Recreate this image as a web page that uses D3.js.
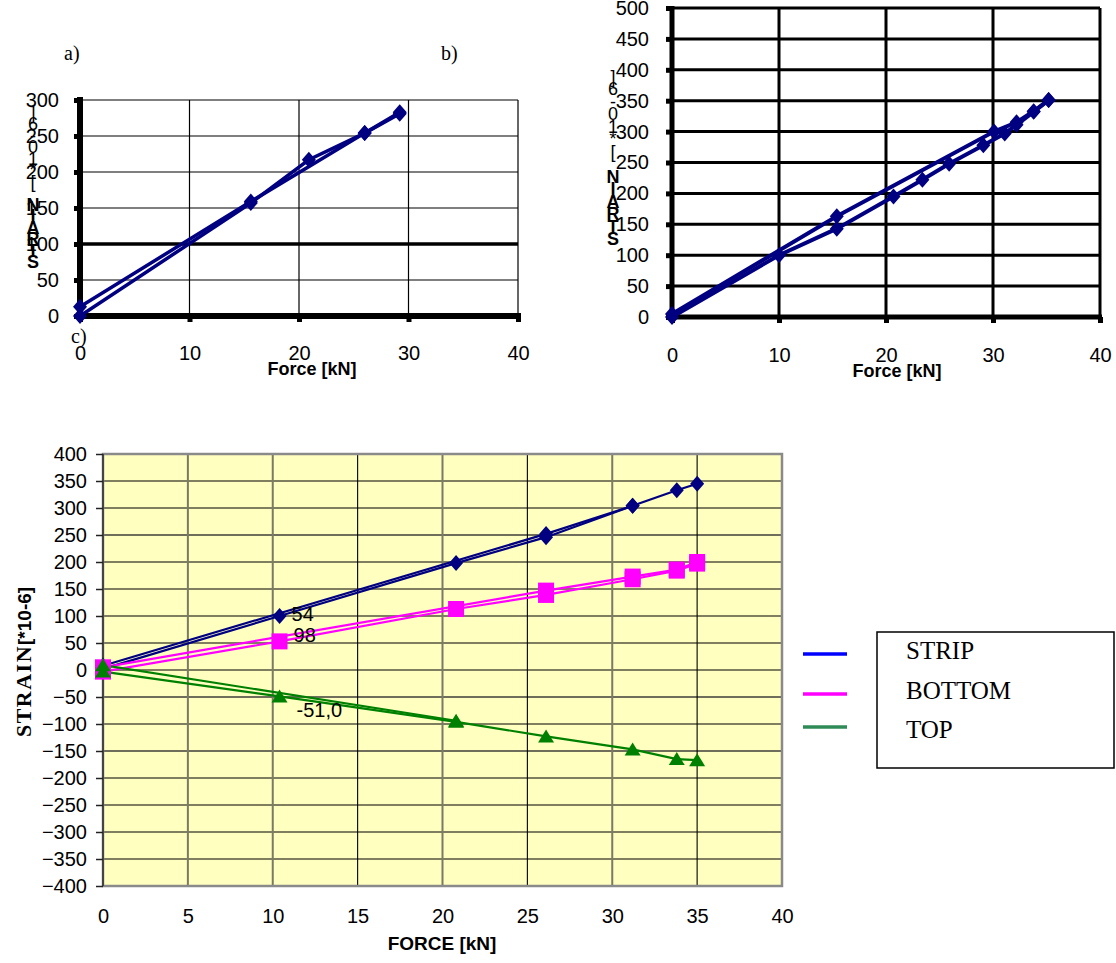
<!DOCTYPE html>
<html><head><meta charset="utf-8">
<script src="https://cdn.jsdelivr.net/npm/d3@7"></script>
<style>body{margin:0;background:#fff}</style>
</head><body>
<svg id="chart" width="1116" height="963"></svg>
<script>
// ---------- data ----------
// panel a
const aForceUp = [0, 15.6, 26.0, 29.2];
const aStrainUp = [13, 159, 254, 281];
const aForceDown = [0, 15.6, 20.9, 26.0, 29.2];
const aStrainDown = [0, 157, 217, 254, 283];
const aXTicks = [0, 10, 20, 30, 40];
const aYTicks = [0, 50, 100, 150, 200, 250, 300];
// panel b
const bForceUp = [0, 15.4, 30.1, 32.2, 33.8, 35.2];
const bStrainUp = [5, 163, 300, 315, 333, 351];
const bForceDown = [0, 10.0, 15.4, 20.7, 23.4, 25.9, 29.1, 31.1, 32.2, 33.8, 35.2];
const bStrainDown = [0, 100, 143, 195, 222, 248, 278, 297, 311, 332, 351];
const bXTicks = [0, 10, 20, 30, 40];
const bYTicks = [0, 50, 100, 150, 200, 250, 300, 350, 400, 450, 500];
// panel c
const cForceLoad = [0, 10.4, 20.8, 26.1, 31.2, 33.8, 35.0];
const cStripLoad = [2, 100, 198, 246, 304, 333, 345];
const cBottomLoad = [-3, 53, 113, 139, 168, 184, 197];
const cTopLoad = [-3, -49, -96, -123, -147, -165, -167];
const cForceStripUnload = [0, 26.1, 31.2];
const cStripUnload = [8, 252, 304];
const cForceBottomUnload = [0, 26.1, 31.2, 33.8, 35.0];
const cBottomUnload = [5, 147, 173, 186, 200];
const cForceTopUnload = [0, 20.8];
const cTopUnload = [9, -94];
const cXTicks = [0, 5, 10, 15, 20, 25, 30, 35, 40];
const cYTicks = [-400, -350, -300, -250, -200, -150, -100, -50, 0, 50, 100, 150, 200, 250, 300, 350, 400];
const cLabelText = ["54", "98", "-51,0"];
const cLabelForce = [10.4, 10.4, 10.4];
const cLabelStrain = [100, 53, -49];
const legendNames = ["STRIP", "BOTTOM", "TOP"];
const legendColors = ["#0000FF", "#FF00FF", "#2E8B57"];
const yLabelText = "STRAIN [*10-6]";

// ---------- drawing ----------
const svg = d3.select("#chart");
const zip = (xs, ys) => xs.map((x, i) => [x, ys[i]]);
const diamond = "M0,-8L7,0L0,8L-7,0Z";
const NAVY = "#000080";
const SANS = "Liberation Sans, Arial, sans-serif";
const SERIF = "Liberation Serif, Times New Roman, serif";

function stackedLabel(g, x, yBottom, step) {
  const chars = yLabelText.split("");
  g.selectAll(null).data(chars).join("text")
    .attr("x", x).attr("y", (d, i) => yBottom - i * step)
    .attr("text-anchor", "middle")
    .attr("font-family", SANS)
    .attr("font-weight", (d, i) => i < 6 ? "bold" : "normal").attr("font-size", 18)
    .text(d => d);
}

// ===== panel a =====
{
  const x = d3.scaleLinear([0, 40], [80, 518]);
  const y = d3.scaleLinear([0, 300], [316, 100]);
  const g = svg.append("g");
  g.selectAll(null).data(aYTicks.filter(v => v > 0)).join("line")
    .attr("x1", x(0)).attr("x2", x(40)).attr("y1", d => y(d)).attr("y2", d => y(d))
    .attr("stroke", "#000").attr("stroke-width", d => d === 100 ? 3.5 : 1.2);
  g.selectAll(null).data(aXTicks.filter(v => v > 0)).join("line")
    .attr("y1", y(0)).attr("y2", y(300)).attr("x1", d => x(d)).attr("x2", d => x(d))
    .attr("stroke", "#000").attr("stroke-width", 1.2);
  const ya = g.append("g").attr("transform", `translate(${x(0)},0)`)
    .call(d3.axisLeft(y).tickValues(aYTicks).tickSize(6).tickPadding(15));
  const xa = g.append("g").attr("transform", `translate(0,${y(0)})`)
    .call(d3.axisBottom(x).tickValues(aXTicks).tickSize(6).tickPadding(24));
  [ya, xa].forEach(a => {
    a.select(".domain").remove();
    a.selectAll(".tick line").attr("stroke", "#000").attr("stroke-width", 5);
    a.selectAll("text").attr("font-family", SANS).attr("font-size", 20).attr("fill", "#000");
  });
  g.append("line").attr("x1", x(0)).attr("x2", x(0)).attr("y1", y(300) - 3).attr("y2", y(0) + 3).attr("stroke", "#000").attr("stroke-width", 6);
  g.append("line").attr("x1", x(0) - 3).attr("x2", x(40) + 3).attr("y1", y(0)).attr("y2", y(0)).attr("stroke", "#000").attr("stroke-width", 6);
  const line = d3.line().x(d => x(d[0])).y(d => y(d[1]));
  [zip(aForceUp, aStrainUp), zip(aForceDown, aStrainDown)].forEach(s => {
    g.append("path").attr("d", line(s)).attr("fill", "none").attr("stroke", NAVY).attr("stroke-width", 3.5);
    g.selectAll(null).data(s).join("path").attr("d", diamond)
      .attr("transform", d => `translate(${x(d[0])},${y(d[1])})`).attr("fill", NAVY);
  });
  stackedLabel(g, 33, 268, 11.5);
  g.append("text").attr("x", 312).attr("y", 375).attr("text-anchor", "middle")
    .attr("font-family", SANS).attr("font-weight", "bold").attr("font-size", 18).text("Force [kN]");
  g.append("text").attr("x", 64).attr("y", 60).attr("font-family", SERIF).attr("font-size", 20).text("a)");
  g.append("text").attr("x", 441).attr("y", 60).attr("font-family", SERIF).attr("font-size", 20).text("b)");
  g.append("text").attr("x", 71).attr("y", 343).attr("font-family", SERIF).attr("font-size", 20).text("c)");
}

// ===== panel b =====
{
  const x = d3.scaleLinear([0, 40], [672, 1100]);
  const y = d3.scaleLinear([0, 500], [317, 8]);
  const g = svg.append("g");
  g.selectAll(null).data(bYTicks.filter(v => v > 0)).join("line")
    .attr("x1", x(0)).attr("x2", x(40)).attr("y1", d => y(d)).attr("y2", d => y(d))
    .attr("stroke", "#000").attr("stroke-width", 3);
  g.selectAll(null).data(bXTicks.filter(v => v > 0)).join("line")
    .attr("y1", y(0)).attr("y2", y(500)).attr("x1", d => x(d)).attr("x2", d => x(d))
    .attr("stroke", "#000").attr("stroke-width", 3);
  const ya = g.append("g").attr("transform", `translate(${x(0)},0)`)
    .call(d3.axisLeft(y).tickValues(bYTicks).tickSize(6).tickPadding(17));
  const xa = g.append("g").attr("transform", `translate(0,${y(0)})`)
    .call(d3.axisBottom(x).tickValues(bXTicks).tickSize(6).tickPadding(25));
  [ya, xa].forEach(a => {
    a.select(".domain").remove();
    a.selectAll(".tick line").attr("stroke", "#000").attr("stroke-width", 5);
    a.selectAll("text").attr("font-family", SANS).attr("font-size", 20).attr("fill", "#000");
  });
  g.append("line").attr("x1", x(0)).attr("x2", x(0)).attr("y1", y(500) - 2).attr("y2", y(0) + 3).attr("stroke", "#000").attr("stroke-width", 5);
  g.append("line").attr("x1", x(0) - 2).attr("x2", x(40) + 2).attr("y1", y(0)).attr("y2", y(0)).attr("stroke", "#000").attr("stroke-width", 5);
  const line = d3.line().x(d => x(d[0])).y(d => y(d[1]));
  [zip(bForceUp, bStrainUp), zip(bForceDown, bStrainDown)].forEach(s => {
    g.append("path").attr("d", line(s)).attr("fill", "none").attr("stroke", NAVY).attr("stroke-width", 4);
    g.selectAll(null).data(s).join("path").attr("d", diamond)
      .attr("transform", d => `translate(${x(d[0])},${y(d[1])})`).attr("fill", NAVY);
  });
  stackedLabel(g, 613, 245, 12.5);
  g.append("text").attr("x", 897).attr("y", 377).attr("text-anchor", "middle")
    .attr("font-family", SANS).attr("font-weight", "bold").attr("font-size", 18).text("Force [kN]");
}

// ===== panel c =====
{
  const x = d3.scaleLinear([0, 40], [103, 782]);
  const y = d3.scaleLinear([-400, 400], [886, 454]);
  const g = svg.append("g");
  g.append("rect").attr("x", x(0)).attr("y", y(400)).attr("width", x(40) - x(0)).attr("height", y(-400) - y(400)).attr("fill", "#FFFFC0");
  const grayH = [-150, -50, 250];
  g.selectAll(null).data(cYTicks.filter(v => v > -400 && v < 400)).join("line")
    .attr("x1", x(0)).attr("x2", x(40)).attr("y1", d => y(d)).attr("y2", d => y(d))
    .attr("stroke", d => grayH.includes(d) ? "#6e6e5a" : "#000")
    .attr("stroke-width", d => grayH.includes(d) ? 1.8 : 1.1);
  const grayV = [5, 10, 20, 30];
  g.selectAll(null).data(cXTicks.filter(v => v > 0 && v < 40)).join("line")
    .attr("y1", y(-400)).attr("y2", y(400)).attr("x1", d => x(d)).attr("x2", d => x(d))
    .attr("stroke", d => grayV.includes(d) ? "#7a7a66" : "#000")
    .attr("stroke-width", d => grayV.includes(d) ? 2 : 1.1);
  g.append("rect").attr("x", x(0)).attr("y", y(400)).attr("width", x(40) - x(0)).attr("height", y(-400) - y(400))
    .attr("fill", "none").attr("stroke", "#8a8a8a").attr("stroke-width", 2.5);
  g.append("line").attr("x1", x(0)).attr("x2", x(0)).attr("y1", y(400)).attr("y2", y(-400)).attr("stroke", "#444").attr("stroke-width", 2);
  const ya = g.append("g").attr("transform", `translate(${x(0)},0)`)
    .call(d3.axisLeft(y).tickValues(cYTicks).tickSize(7).tickPadding(9));
  const xa = g.append("g").attr("transform", `translate(0,${y(-400)})`)
    .call(d3.axisBottom(x).tickValues(cXTicks).tickSize(0).tickPadding(23));
  [ya, xa].forEach(a => {
    a.select(".domain").remove();
    a.selectAll(".tick line").attr("stroke", "#222").attr("stroke-width", 1.5);
    a.selectAll("text").attr("font-family", SANS).attr("font-size", 20).attr("fill", "#000");
  });
  const line = d3.line().x(d => x(d[0])).y(d => y(d[1]));
  const series = [
    {pts: zip(cForceLoad, cStripLoad), color: NAVY, m: "d"},
    {pts: zip(cForceStripUnload, cStripUnload), color: NAVY, m: "d"},
    {pts: zip(cForceLoad, cBottomLoad), color: "#FF00FF", m: "s"},
    {pts: zip(cForceBottomUnload, cBottomUnload), color: "#FF00FF", m: "s"},
    {pts: zip(cForceLoad, cTopLoad), color: "#008000", m: "t"},
    {pts: zip(cForceTopUnload, cTopUnload), color: "#008000", m: "t"}
  ];
  const shapes = {d: diamond, s: "M-8,-8H8V8H-8Z", t: "M0,-7L8,6H-8Z"};
  series.forEach(s => {
    g.append("path").attr("d", line(s.pts)).attr("fill", "none").attr("stroke", s.color).attr("stroke-width", 2.2);
  });
  series.forEach(s => {
    g.selectAll(null).data(s.pts).join("path").attr("d", shapes[s.m])
      .attr("transform", d => `translate(${x(d[0])},${y(d[1])})`).attr("fill", s.color);
  });
  const lblDx = [12, 14, 17], lblDy = [5, 1, 21];
  g.selectAll(null).data(cLabelText).join("text")
    .attr("x", (d, i) => x(cLabelForce[i]) + lblDx[i]).attr("y", (d, i) => y(cLabelStrain[i]) + lblDy[i])
    .attr("font-family", SANS).attr("font-size", 20).text(d => d);
  // axis titles
  const yt = g.append("text").attr("transform", "translate(31,662) rotate(-90)").attr("text-anchor", "middle")
    .attr("font-weight", "bold").attr("font-size", 22);
  yt.append("tspan").attr("font-family", SERIF).attr("letter-spacing", 1.5).text("STRAIN");
  yt.append("tspan").attr("font-family", SANS).attr("font-size", 19).text("[*10-6]");
  g.append("text").attr("x", 442).attr("y", 950).attr("text-anchor", "middle")
    .attr("font-family", SANS).attr("font-weight", "bold").attr("font-size", 19).text("FORCE [kN]");
  // legend
  const ly = [654, 694, 727];
  g.selectAll(null).data(legendColors).join("line")
    .attr("x1", 803).attr("x2", 847).attr("y1", (d, i) => ly[i]).attr("y2", (d, i) => ly[i])
    .attr("stroke", d => d).attr("stroke-width", 3.5);
  g.append("rect").attr("x", 877).attr("y", 632).attr("width", 237).attr("height", 136)
    .attr("fill", "none").attr("stroke", "#000").attr("stroke-width", 1.5);
  const tb = [659, 699, 738];
  g.selectAll(null).data(legendNames).join("text")
    .attr("x", 906).attr("y", (d, i) => tb[i])
    .attr("font-family", SERIF).attr("font-size", 25).text(d => d);
}
</script>
</body></html>
